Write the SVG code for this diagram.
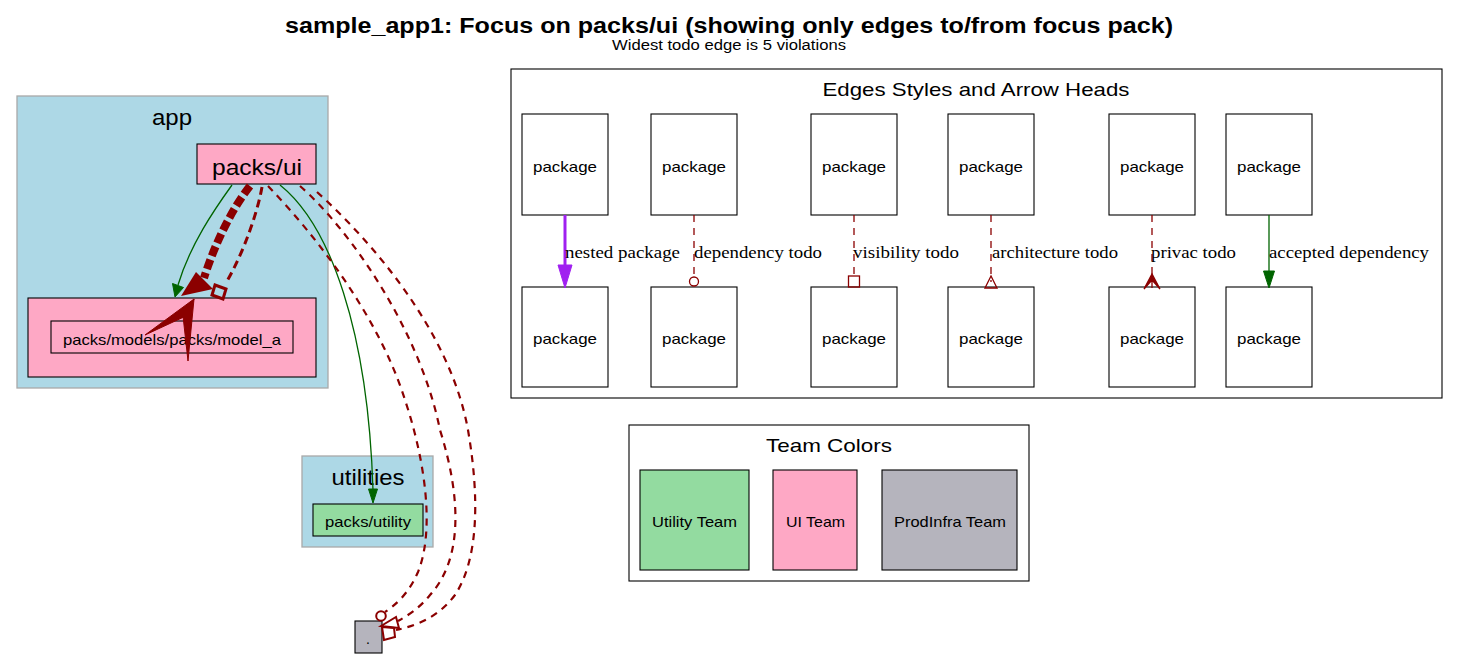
<svg xmlns="http://www.w3.org/2000/svg" width="1458" height="659" viewBox="0 0 1458 659">
<style>
text{font-family:"Liberation Sans",Arial,sans-serif;fill:#000;text-anchor:middle}
.serif{font-family:"Liberation Serif","Times New Roman",serif;text-anchor:start;font-size:17px}
.cl{fill:#add8e6;stroke:#a9a9a9;stroke-width:1.3}
.ui{fill:#fea8c5;stroke:#000;stroke-width:1.1}
.ut{fill:#93dba0;stroke:#000;stroke-width:1.1}
.pi{fill:#b5b4bd;stroke:#000;stroke-width:1.1}
.wb{fill:#fff;stroke:#000;stroke-width:1.1}
.pk{font-size:14px}
.lp{font-size:15px}
.todo{fill:none;stroke:#8b0000;stroke-dasharray:7,6}
.ok{fill:none;stroke:#006400;stroke-width:1.3}
</style>
<rect width="1458" height="659" fill="#fff"/>
<g id="title">
<text x="729" y="33" font-size="22" font-weight="bold" textLength="888" lengthAdjust="spacingAndGlyphs">sample_app1: Focus on packs/ui (showing only edges to/from focus pack)</text>
<text x="729" y="50" font-size="14" textLength="234" lengthAdjust="spacingAndGlyphs">Widest todo edge is 5 violations</text>
</g>
<g id="cluster_app">
<rect class="cl" x="17" y="96" width="311" height="292"/>
<text x="172" y="125" font-size="22" textLength="40" lengthAdjust="spacingAndGlyphs">app</text>
</g>
<g id="node_packs_ui">
<rect class="ui" x="197" y="144" width="119" height="40"/>
<text x="257" y="175" font-size="22" textLength="90" lengthAdjust="spacingAndGlyphs">packs/ui</text>
</g>
<g id="cluster_models">
<rect class="ui" x="28" y="298" width="288" height="79"/>
</g>
<g id="node_model_a">
<rect class="ui" x="51" y="321" width="242" height="32"/>
<text class="lp" x="172" y="345" textLength="218" lengthAdjust="spacingAndGlyphs">packs/models/packs/model_a</text>
</g>
<g id="cluster_utilities">
<rect class="cl" x="302" y="456" width="131" height="91"/>
<text x="368" y="485" font-size="22" textLength="73" lengthAdjust="spacingAndGlyphs">utilities</text>
</g>
<g id="node_packs_utility">
<rect class="ut" x="313" y="504" width="110" height="32"/>
<text class="lp" x="368" y="527" textLength="86" lengthAdjust="spacingAndGlyphs">packs/utility</text>
</g>
<g id="node_root">
<rect class="pi" x="355" y="621" width="27" height="32"/>
<text class="pk" x="368" y="644">.</text>
</g>
<g id="connectors">
<path class="ok" d="M232,185 C214,210 190,245 178,285"/>
<polygon points="175,297 172.5,283.5 183.5,287.5" fill="#006400" stroke="#006400"/>
<path class="ok" d="M280,185 C330,225 368,330 373,490"/>
<polygon points="373,503 368.5,489 377.5,489" fill="#006400" stroke="#006400"/>
<path d="M250,186 C234,206 216,240 204,278" fill="none" stroke="#8b0000" stroke-width="8" stroke-dasharray="10,4"/>
<polygon points="181,296 196,272 213,289" fill="#8b0000"/>
<path d="M145,335 L194,299 L186,316 Z M194,299 L188,361 L183,316 Z" fill="#8b0000" stroke="#8b0000" stroke-width="1"/>
<path d="M262,187 C258,210 245,250 226,283" fill="none" stroke="#8b0000" stroke-width="3" stroke-dasharray="8,5"/>
<polygon points="215,285 226,289 223,299 212,295" fill="none" stroke="#8b0000" stroke-width="3"/>
<path class="todo" stroke-width="2.2" d="M268,186 C320,240 380,320 405,400 C425,460 435,530 418,572 C408,595 395,605 385,612"/>
<circle cx="381" cy="616" r="4.8" fill="none" stroke="#8b0000" stroke-width="2"/>
<path class="todo" stroke-width="2.2" d="M300,186 C350,230 420,330 440,430 C462,500 462,560 430,595 C418,610 405,617 398,621"/>
<polygon points="381,626 396,617 399,628" fill="none" stroke="#8b0000" stroke-width="2"/>
<path class="todo" stroke-width="2.2" d="M317,192 C370,240 450,330 468,430 C480,500 478,560 455,595 C440,615 420,625 396,630"/>
<polygon points="382,627 394,628 395,637 384,640" fill="none" stroke="#8b0000" stroke-width="2"/>
</g>
<g id="legend_edges">
<rect class="wb" x="511" y="69" width="931" height="329"/>
<text x="976" y="96" font-size="19" textLength="307" lengthAdjust="spacingAndGlyphs">Edges Styles and Arrow Heads</text>
<g id="legend_pkgs">
<rect class="wb" x="522" y="114" width="86" height="101"/><text class="lp" x="565" y="172" textLength="64" lengthAdjust="spacingAndGlyphs">package</text>
<rect class="wb" x="651" y="114" width="86" height="101"/><text class="lp" x="694" y="172" textLength="64" lengthAdjust="spacingAndGlyphs">package</text>
<rect class="wb" x="811" y="114" width="86" height="101"/><text class="lp" x="854" y="172" textLength="64" lengthAdjust="spacingAndGlyphs">package</text>
<rect class="wb" x="948" y="114" width="86" height="101"/><text class="lp" x="991" y="172" textLength="64" lengthAdjust="spacingAndGlyphs">package</text>
<rect class="wb" x="1109" y="114" width="86" height="101"/><text class="lp" x="1152" y="172" textLength="64" lengthAdjust="spacingAndGlyphs">package</text>
<rect class="wb" x="1226" y="114" width="86" height="101"/><text class="lp" x="1269" y="172" textLength="64" lengthAdjust="spacingAndGlyphs">package</text>
<rect class="wb" x="522" y="287" width="86" height="100"/><text class="lp" x="565" y="344" textLength="64" lengthAdjust="spacingAndGlyphs">package</text>
<rect class="wb" x="651" y="287" width="86" height="100"/><text class="lp" x="694" y="344" textLength="64" lengthAdjust="spacingAndGlyphs">package</text>
<rect class="wb" x="811" y="287" width="86" height="100"/><text class="lp" x="854" y="344" textLength="64" lengthAdjust="spacingAndGlyphs">package</text>
<rect class="wb" x="948" y="287" width="86" height="100"/><text class="lp" x="991" y="344" textLength="64" lengthAdjust="spacingAndGlyphs">package</text>
<rect class="wb" x="1109" y="287" width="86" height="100"/><text class="lp" x="1152" y="344" textLength="64" lengthAdjust="spacingAndGlyphs">package</text>
<rect class="wb" x="1226" y="287" width="86" height="100"/><text class="lp" x="1269" y="344" textLength="64" lengthAdjust="spacingAndGlyphs">package</text>
</g>
<g id="legend_connectors">
<line x1="565" y1="215" x2="565" y2="266" stroke="#a020f0" stroke-width="3"/>
<polygon points="565,288 558,265 572,265" fill="#a020f0" stroke="#a020f0"/>
<line class="todo" x1="694" y1="215" x2="694" y2="277" stroke-width="1.3"/>
<circle cx="694" cy="281.5" r="4.5" fill="none" stroke="#8b0000" stroke-width="1.3"/>
<line class="todo" x1="854" y1="215" x2="854" y2="276" stroke-width="1.3"/>
<rect x="848.5" y="276" width="11" height="11" fill="none" stroke="#8b0000" stroke-width="1.3"/>
<line class="todo" x1="991" y1="215" x2="991" y2="282" stroke-width="1.3"/>
<polygon points="991,276 985,288 997,288" fill="none" stroke="#8b0000" stroke-width="1.3"/>
<line class="todo" x1="1152" y1="215" x2="1152" y2="276" stroke-width="1.3"/>
<path d="M1144,289 L1152,274 L1160,289 L1152,280 Z M1152,274 V288" fill="#8b0000" stroke="#8b0000" stroke-width="1.3"/>
<line class="ok" x1="1269" y1="215" x2="1269" y2="272"/>
<polygon points="1269,288 1263.5,271 1274.5,271" fill="#006400" stroke="#006400"/>
<text class="serif" x="565" y="258" textLength="115" lengthAdjust="spacingAndGlyphs">nested package</text>
<text class="serif" x="694" y="258" textLength="128" lengthAdjust="spacingAndGlyphs">dependency todo</text>
<text class="serif" x="853" y="258" textLength="106" lengthAdjust="spacingAndGlyphs">visibility todo</text>
<text class="serif" x="992" y="258" textLength="126" lengthAdjust="spacingAndGlyphs">architecture todo</text>
<text class="serif" x="1151" y="258" textLength="85" lengthAdjust="spacingAndGlyphs">privac todo</text>
<text class="serif" x="1269" y="258" textLength="160" lengthAdjust="spacingAndGlyphs">accepted dependency</text>
</g>
</g>
<g id="legend_teams">
<rect class="wb" x="629" y="425" width="400" height="156"/>
<text x="829" y="452" font-size="19" textLength="126" lengthAdjust="spacingAndGlyphs">Team Colors</text>
<g id="team_utility"><rect class="ut" x="640" y="470" width="109" height="100"/><text class="lp" x="694.5" y="527" textLength="85" lengthAdjust="spacingAndGlyphs">Utility Team</text></g>
<g id="team_ui"><rect class="ui" x="773" y="470" width="84" height="100"/><text class="lp" x="815.5" y="527" textLength="59" lengthAdjust="spacingAndGlyphs">UI Team</text></g>
<g id="team_prodinfra"><rect class="pi" x="882" y="470" width="135" height="100"/><text class="lp" x="950" y="527" textLength="112" lengthAdjust="spacingAndGlyphs">ProdInfra Team</text></g>
</g>
</svg>
